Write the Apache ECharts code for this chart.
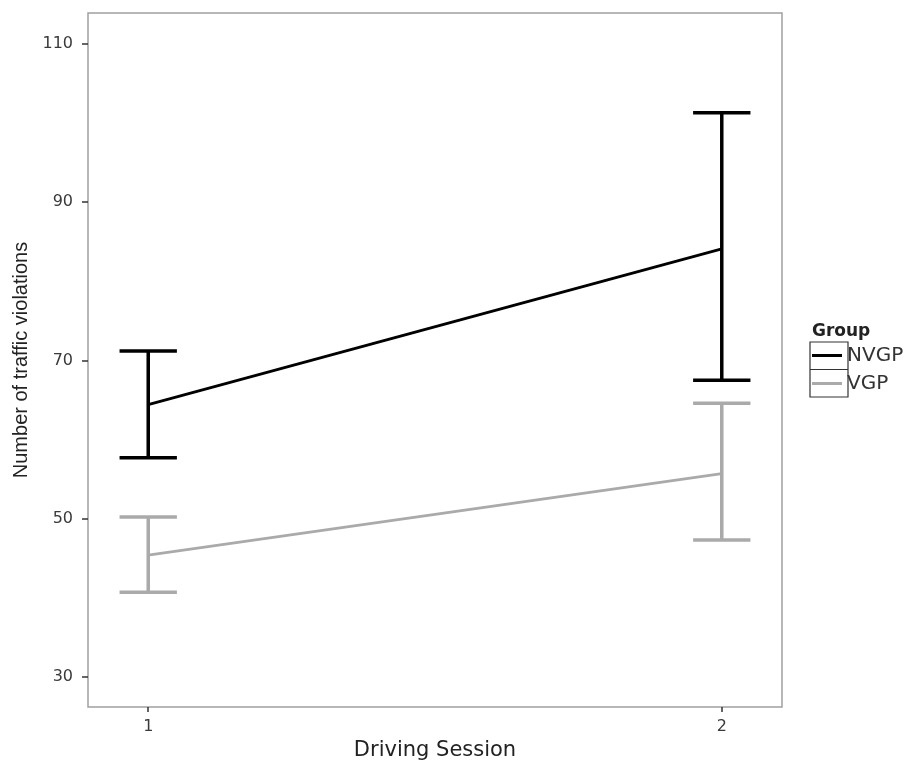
<!DOCTYPE html>
<html><head><meta charset="utf-8">
<script src="https://cdn.jsdelivr.net/npm/echarts@6/dist/echarts.min.js"></script>
<style>html,body{margin:0;padding:0;background:#fff}#c{width:912px;height:761px}</style>
</head><body><div id="c"></div>
<script>
const sessions = [1, 2];
const groups = ['NVGP', 'VGP'];
const nvgpMean = [64.4, 84.1];
const nvgpLow = [57.7, 67.5];
const nvgpHigh = [71.2, 101.3];
const vgpMean = [45.4, 55.7];
const vgpLow = [40.7, 47.3];
const vgpHigh = [50.2, 64.6];
const yTicks = [30, 50, 70, 90, 110];
const xTicks = [1, 2];

const colors = {NVGP: '#000000', VGP: '#aaaaaa'};

function errRender(color) {
  return function (params, api) {
    const x = api.value(0), lo = api.value(1), hi = api.value(2);
    const pLo = api.coord([x, lo]), pHi = api.coord([x, hi]);
    const half = api.size([0.1, 0])[0] / 2;
    const style = {stroke: color, lineWidth: 3.5, fill: null};
    return {type: 'group', children: [
      {type: 'line', shape: {x1: pLo[0], y1: pLo[1], x2: pHi[0], y2: pHi[1]}, style},
      {type: 'line', shape: {x1: pHi[0] - half, y1: pHi[1], x2: pHi[0] + half, y2: pHi[1]}, style},
      {type: 'line', shape: {x1: pLo[0] - half, y1: pLo[1], x2: pLo[0] + half, y2: pLo[1]}, style}
    ]};
  };
}

const chart = echarts.init(document.getElementById('c'), null, {renderer: 'canvas'});
const tickFont = 'DejaVu Sans';
chart.setOption({
  animation: false,
  backgroundColor: '#ffffff',
  grid: {left: 88, right: 130, top: 13, bottom: 54, containLabel: false, outerBoundsMode: 'none',
    show: true, borderColor: '#a0a0a0', borderWidth: 1.5, backgroundColor: 'transparent'},
  xAxis: {
    type: 'value', min: 0.895, max: 2.105,
    name: 'Driving Session', nameLocation: 'middle', nameGap: 32,
    nameTextStyle: {fontFamily: tickFont, fontSize: 21, color: '#222'},
    axisLine: {show: false},
    axisTick: {show: true, length: 5, customValues: xTicks, lineStyle: {color: '#333', width: 1.5}},
    axisLabel: {customValues: xTicks, margin: 12, fontFamily: tickFont, fontSize: 16, color: '#3a3a3a'},
    splitLine: {show: false}
  },
  yAxis: {
    type: 'value', min: 26.2, max: 113.9,
    name: 'Number of traffic violations', nameLocation: 'middle', nameGap: 54,
    nameTextStyle: {fontFamily: 'Liberation Sans', fontSize: 20, color: '#222'},
    axisLine: {show: false},
    axisTick: {show: true, length: 6, customValues: yTicks, lineStyle: {color: '#333', width: 1.5}},
    axisLabel: {customValues: yTicks, margin: 15, fontFamily: tickFont, fontSize: 16, color: '#3a3a3a'},
    splitLine: {show: false}
  },
  legend: {
    orient: 'vertical', left: 812, top: 345.5, padding: 0,
    itemWidth: 30, itemHeight: 3, itemGap: 8, icon: 'rect',
    data: groups,
    textStyle: {fontFamily: tickFont, fontSize: 20, lineHeight: 20, color: '#333'}
  },
  graphic: [
    {type: 'text', left: 812, top: 323, style: {text: 'Group', fontFamily: tickFont, fontWeight: 'bold', fontSize: 17, fill: '#222'}},
    {type: 'rect', shape: {x: 810, y: 342, width: 38, height: 55}, style: {fill: 'none', stroke: '#333', lineWidth: 1.2}},
    {type: 'line', shape: {x1: 810, y1: 369.5, x2: 848, y2: 369.5}, style: {stroke: '#333', lineWidth: 1.2}}
  ],
  series: [
    {name: 'NVGP', type: 'line', data: sessions.map((s, i) => [s, nvgpMean[i]]), showSymbol: false, symbol: 'none',
      lineStyle: {color: colors.NVGP, width: 2.8}, itemStyle: {color: colors.NVGP}, z: 3},
    {name: 'VGP', type: 'line', data: sessions.map((s, i) => [s, vgpMean[i]]), showSymbol: false, symbol: 'none',
      lineStyle: {color: colors.VGP, width: 2.8}, itemStyle: {color: colors.VGP}, z: 3},
    {name: 'NVGP', type: 'custom', renderItem: errRender(colors.NVGP), itemStyle: {color: colors.NVGP},
      encode: {x: 0, y: [1, 2]}, data: sessions.map((s, i) => [s, nvgpLow[i], nvgpHigh[i]]), z: 4},
    {name: 'VGP', type: 'custom', renderItem: errRender(colors.VGP), itemStyle: {color: colors.VGP},
      encode: {x: 0, y: [1, 2]}, data: sessions.map((s, i) => [s, vgpLow[i], vgpHigh[i]]), z: 4}
  ]
});
</script></body></html>
